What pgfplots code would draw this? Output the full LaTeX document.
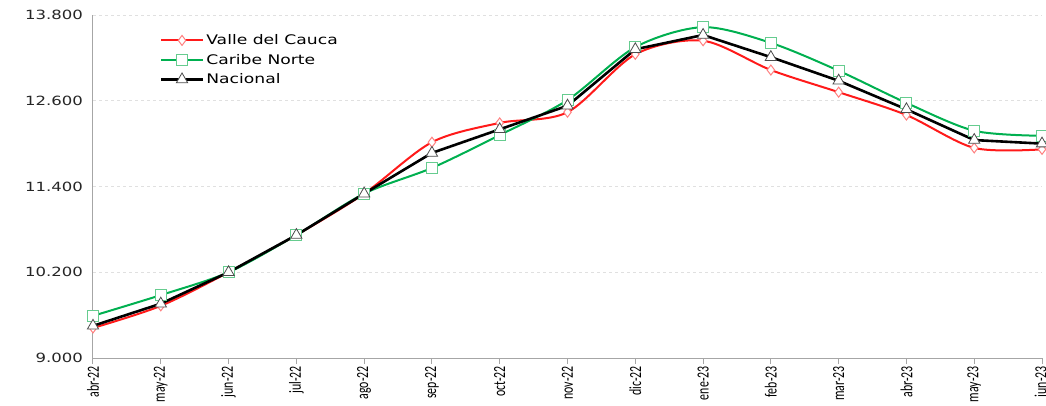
\documentclass[border=0pt]{standalone}
\usepackage{fontspec}
\usepackage{pgfplots}
\pgfplotsset{compat=1.18}
\newfontfamily\wide[FakeStretch=1.3]{DejaVu Sans}
\newfontfamily\narrow[FakeStretch=0.7]{Carlito}
\definecolor{vred}{HTML}{FF1A1A}
\definecolor{vredm}{HTML}{FF8080}
\definecolor{cgreen}{HTML}{00B050}
\definecolor{cgreenm}{HTML}{66CC8F}
\definecolor{gridc}{HTML}{E0E0E0}
\definecolor{axc}{HTML}{A6A6A6}
\begin{document}
\begin{tikzpicture}
\begin{axis}[
  scale only axis,
  width=949pt, height=343pt,
  xmin=0, xmax=14, ymin=9.0, ymax=13.8,
  axis x line*=bottom, axis y line*=left,
  axis line style={draw=axc, line width=1pt},
  xtick={0,...,14},
  xticklabels={abr-22,may-22,jun-22,jul-22,ago-22,sep-22,oct-22,nov-22,dic-22,ene-23,feb-23,mar-23,abr-23,may-23,jun-23},
  xticklabel style={rotate=90, anchor=east, font=\narrow\fontsize{17}{18}\selectfont, inner sep=0pt},
  ytick={9.0,10.2,11.4,12.6,13.8},
  yticklabel style={font=\wide\fontsize{12.7}{14}\selectfont, text=black!85, inner sep=0pt},
  /pgf/number format/.cd, fixed, fixed zerofill, precision=3, assume math mode=true,
  /pgfplots/.cd,
  tick align=outside,
  major tick length=6pt,
  xtick style={draw=axc, line width=1pt},
  ytick style={draw=none},
  yticklabel shift=4pt,
  xticklabel shift=2pt,
  ymajorgrids,
  major grid style={draw=gridc, dashed, line width=0.8pt},
  clip=false,
  legend style={at={(0.068,0.955)}, anchor=north west, draw=none, fill=none,
    font=\wide\fontsize{13.2}{15}\selectfont, row sep=4pt, inner sep=2pt},
  legend cell align=left,
  legend image code/.code={\draw[#1,mark repeat=2,mark phase=2] plot coordinates {(0pt,0pt) (21pt,0pt) (42pt,0pt)};},
]
\addplot[vred, line width=2pt, smooth, tension=0.5, mark=diamond*, mark size=5pt,
  mark options={fill=white, draw=vredm, line width=1pt, solid}]
  coordinates {(0,9.42) (1,9.73) (2,10.20) (3,10.72) (4,11.30) (5,12.02) (6,12.29) (7,12.44) (8,13.25) (9,13.44) (10,13.03) (11,12.72) (12,12.40) (13,11.94) (14,11.92)};
\addlegendentry{Valle del Cauca}
\addplot[cgreen, line width=2pt, smooth, tension=0.5, mark=square*, mark size=5.5pt,
  mark options={fill=white, draw=cgreenm, line width=1pt, solid}]
  coordinates {(0,9.59) (1,9.88) (2,10.20) (3,10.72) (4,11.30) (5,11.66) (6,12.12) (7,12.61) (8,13.35) (9,13.63) (10,13.41) (11,13.02) (12,12.57) (13,12.18) (14,12.11)};
\addlegendentry{Caribe Norte}
\addplot[black, line width=2.6pt, mark=triangle*, mark size=6.5pt,
  mark options={fill=white, draw=black!70, line width=0.8pt, solid}]
  coordinates {(0,9.45) (1,9.76) (2,10.20) (3,10.72) (4,11.30) (5,11.87) (6,12.20) (7,12.53) (8,13.32) (9,13.52) (10,13.21) (11,12.88) (12,12.48) (13,12.05) (14,12.00)};
\addlegendentry{Nacional}
\end{axis}
\pgfresetboundingbox
\path[use as bounding box] (-93pt,-47pt) rectangle (953pt,358pt);
\end{tikzpicture}
\end{document}
